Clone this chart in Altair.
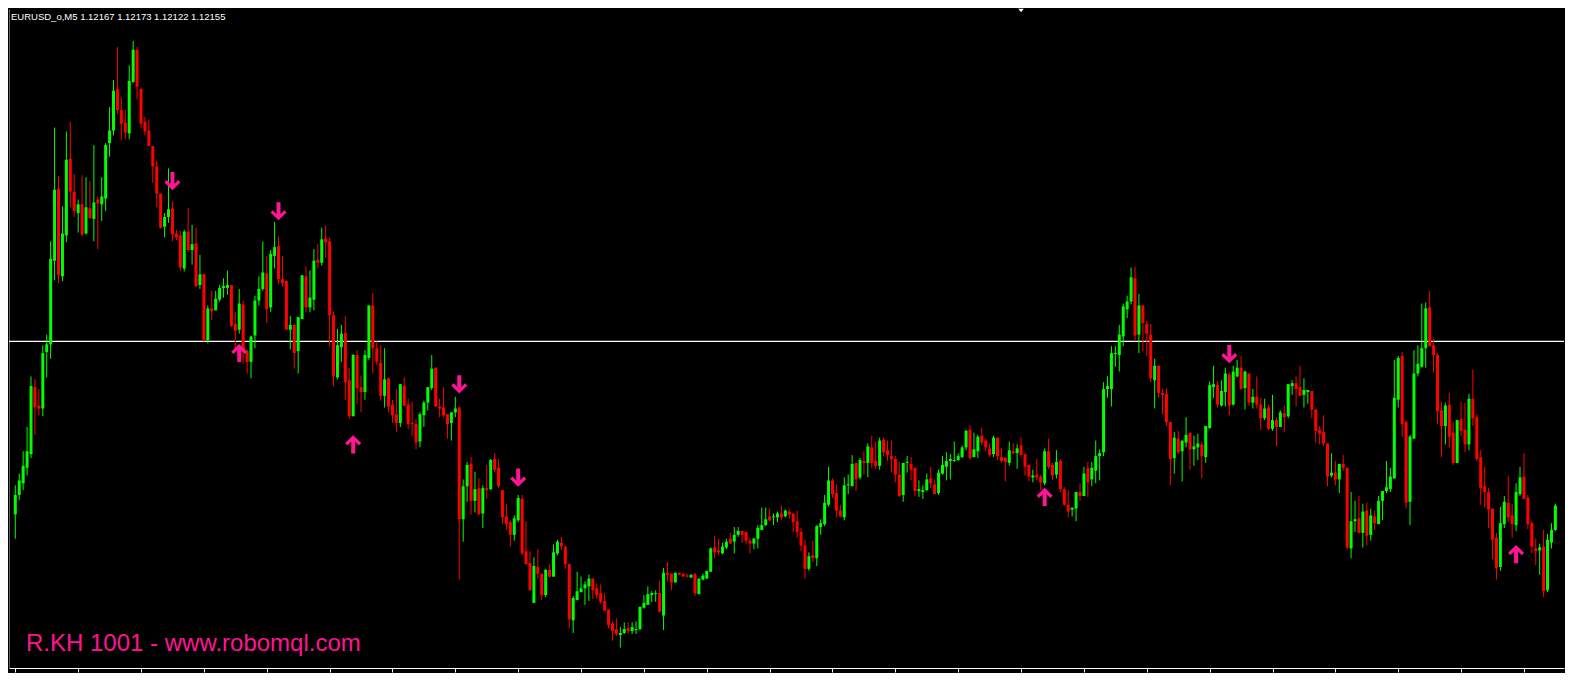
import altair as alt
import pandas as pd

# Prices are stored in points above 1.10000 (1 point = 0.00001)
OPEN = [1980,2000,2012,2028,2042,2111,2092,2089,2147,2155,
2241,2315,2225,2267,2346,2312,2290,2299,2269,2295,
2284,2304,2299,2305,2362,2375,2418,2396,2383,2372,
2425,2458,2418,2384,2375,2359,2338,2310,2276,2286,
2295,2269,2267,2233,2271,2252,2259,2216,2227,2159,
2192,2190,2201,2213,2213,2216,2176,2170,2196,2148,
2137,2164,2200,2212,2228,2193,2246,2256,2222,2220,
2170,2175,2148,2181,2225,2193,2201,2242,2239,2264,
2261,2185,2121,2152,2167,2118,2081,2144,2111,2106,
2141,2195,2151,2136,2102,2120,2093,2083,2074,2112,
2093,2074,2073,2055,2082,2095,2110,2131,2091,2090,
2083,2074,2085,2090,1975,2009,2032,1994,2007,1981,
2007,2006,2037,2028,2005,1978,1972,1959,1974,1996,
1942,1930,1889,1926,1919,1897,1923,1916,1940,1951,
1947,1929,1871,1892,1900,1904,1906,1914,1904,1899,
1891,1882,1868,1862,1856,1858,1863,1860,1861,1862,
1884,1887,1897,1898,1899,1876,1920,1919,1910,1920,
1919,1917,1915,1919,1898,1913,1914,1921,1946,1943,
1940,1946,1955,1952,1959,1963,1962,1953,1950,1955,
1964,1969,1978,1977,1977,1981,1978,1983,1981,1973,
1962,1948,1924,1938,1935,1967,1970,1990,2015,2002,
1984,1977,2010,2009,2033,2018,2035,2033,2049,2035,
2030,2057,2046,2040,2037,2021,2000,2033,2032,2028,
2004,2003,2005,2017,2011,2002,2022,2029,2035,2035,
2036,2039,2049,2067,2039,2045,2061,2056,2048,2042,
2059,2039,2038,2033,2045,2043,2051,2042,2031,2018,
2021,2019,2012,2045,2031,2021,2035,2006,1990,1985,
1986,2003,1999,2028,2016,2025,2040,2044,2109,2109,
2145,2144,2163,2191,2199,2223,2165,2195,2176,2165,
2118,2133,2105,2104,2075,2038,2058,2045,2054,2064,
2047,2049,2052,2039,2069,2111,2113,2092,2106,2124,
2093,2122,2131,2110,2125,2095,2101,2093,2079,2090,
2068,2077,2070,2084,2081,2112,2115,2111,2103,2106,
2107,2088,2067,2065,2053,2020,2023,2016,2032,2028,
1945,1973,1976,1961,1984,1959,1978,1970,1994,2004,
2006,2017,2098,2143,2075,1993,2058,2125,2132,2151,
2193,2154,2144,2087,2071,2093,2064,2033,2078,2067,
2052,2099,2080,2039,2009,2003,1986,1956,1926,1970,
1992,1979,1969,2001,2019,1997,1971,1945,1943,1947,
1902,1951,1964]

CLOSE = [2000,2015,2030,2045,2112,2090,2089,2146,2155,2243,
2314,2226,2269,2345,2312,2292,2299,2268,2296,2285,
2301,2300,2307,2360,2375,2416,2396,2382,2373,2426,
2458,2420,2382,2374,2359,2338,2310,2275,2286,2294,
2268,2265,2234,2271,2252,2258,2215,2227,2159,2192,
2189,2202,2213,2215,2216,2174,2169,2197,2147,2137,
2163,2200,2212,2229,2191,2248,2255,2222,2218,2170,
2175,2146,2183,2226,2193,2203,2241,2239,2263,2260,
2185,2122,2154,2166,2116,2081,2144,2110,2106,2144,
2195,2151,2137,2102,2119,2091,2082,2074,2114,2092,
2073,2073,2054,2083,2095,2111,2130,2091,2089,2082,
2073,2085,2089,1975,2009,2031,1994,2006,1980,2007,
2005,2036,2026,2009,1977,1970,1959,1976,1997,1940,
1929,1902,1927,1919,1897,1923,1916,1941,1952,1947,
1929,1872,1894,1901,1904,1908,1914,1902,1897,1890,
1881,1866,1860,1857,1858,1862,1860,1864,1862,1885,
1889,1898,1899,1899,1880,1920,1918,1910,1920,1918,
1916,1916,1918,1899,1914,1917,1922,1945,1941,1941,
1947,1952,1950,1959,1963,1959,1953,1950,1955,1966,
1969,1975,1974,1978,1981,1977,1984,1980,1972,1962,
1948,1924,1937,1935,1968,1971,1992,2015,2001,1984,
1978,2010,2011,2032,2016,2036,2033,2050,2033,2030,
2056,2044,2041,2037,2021,1999,2033,2034,2026,2004,
2006,2005,2016,2012,2001,2023,2031,2035,2037,2036,
2040,2049,2066,2038,2047,2060,2054,2049,2041,2059,
2040,2035,2034,2046,2043,2048,2041,2029,2019,2020,
2018,2013,2045,2029,2020,2034,2006,1990,1983,1987,
2003,1999,2022,2013,2028,2040,2043,2109,2112,2146,
2146,2165,2194,2199,2224,2164,2195,2177,2166,2120,
2133,2105,2103,2075,2037,2059,2044,2056,2062,2047,
2050,2053,2040,2071,2113,2114,2093,2107,2125,2092,
2127,2131,2109,2127,2095,2101,2093,2079,2089,2068,
2077,2070,2085,2080,2114,2115,2109,2102,2108,2108,
2088,2066,2063,2053,2019,2023,2016,2032,2028,1946,
1973,1975,1961,1983,1958,1979,1971,1994,2004,2008,
2019,2100,2141,2073,1992,2060,2125,2135,2151,2192,
2153,2144,2086,2071,2092,2060,2033,2077,2066,2052,
2099,2079,2037,2007,2003,1985,1954,1925,1971,1993,
1977,1970,2003,2018,1996,1970,1947,1942,1946,1901,
1954,1964,1989]

HIGH = [2010,2022,2045,2070,2122,2119,2109,2154,2165,2261,
2378,2328,2297,2374,2384,2330,2304,2329,2327,2323,
2360,2307,2327,2362,2399,2427,2461,2409,2396,2442,
2467,2461,2418,2389,2386,2359,2344,2310,2290,2336,
2302,2273,2272,2273,2295,2278,2275,2247,2228,2195,
2210,2210,2216,2223,2231,2216,2188,2212,2200,2150,
2164,2205,2225,2261,2246,2252,2281,2266,2246,2221,
2184,2176,2183,2226,2235,2231,2253,2258,2275,2277,
2265,2189,2171,2175,2184,2131,2145,2149,2123,2149,
2195,2208,2158,2154,2151,2121,2098,2109,2114,2121,
2099,2096,2078,2085,2097,2111,2144,2131,2099,2111,
2083,2085,2101,2091,2016,2034,2039,2024,2017,2010,
2031,2037,2043,2037,2005,1991,1974,1979,2000,2000,
1973,1942,1936,1944,1919,1924,1929,1949,1954,1957,
1947,1929,1896,1921,1916,1911,1918,1914,1909,1908,
1899,1882,1870,1873,1864,1869,1869,1869,1870,1885,
1897,1906,1901,1902,1912,1925,1931,1919,1920,1920,
1919,1919,1918,1919,1914,1919,1922,1946,1958,1955,
1951,1955,1961,1967,1967,1963,1962,1956,1956,1969,
1987,1987,1986,1981,1983,1989,1985,1986,1981,1984,
1966,1954,1941,1953,1969,1975,2000,2029,2017,2011,
1990,2018,2021,2041,2033,2038,2045,2053,2061,2055,
2059,2059,2056,2056,2040,2034,2033,2040,2039,2028,
2015,2010,2022,2029,2016,2026,2040,2044,2042,2055,
2043,2051,2067,2072,2064,2062,2069,2058,2053,2061,
2059,2048,2039,2055,2053,2052,2059,2042,2031,2026,
2037,2021,2048,2058,2033,2046,2037,2008,2005,1987,
2003,2012,2029,2034,2034,2056,2047,2116,2122,2153,
2153,2175,2197,2205,2234,2235,2207,2195,2179,2176,
2140,2133,2109,2110,2075,2065,2066,2056,2080,2064,
2061,2063,2055,2071,2117,2133,2117,2118,2131,2126,
2133,2139,2143,2128,2125,2109,2122,2100,2099,2093,
2103,2080,2087,2092,2114,2118,2122,2133,2120,2108,
2107,2088,2071,2082,2053,2043,2035,2032,2041,2028,
2003,1994,1999,1991,1992,1986,1984,1999,2004,2035,
2028,2139,2143,2147,2077,2062,2149,2154,2197,2198,
2210,2161,2146,2096,2095,2105,2075,2077,2096,2095,
2104,2129,2083,2046,2029,2007,1986,1961,1988,1999,
2019,1991,2012,2029,2043,2000,1973,1955,1950,1964,
1960,1971,1991]

LOW = [1955,1995,2005,2020,2038,2062,2082,2081,2121,2140,
2221,2218,2220,2260,2296,2286,2270,2266,2268,2284,
2261,2253,2282,2292,2348,2370,2392,2365,2366,2366,
2424,2407,2378,2370,2359,2321,2296,2274,2265,2280,
2261,2262,2231,2230,2250,2237,2214,2212,2158,2156,
2180,2190,2199,2203,2206,2173,2151,2166,2135,2125,
2120,2151,2195,2210,2177,2188,2233,2217,2214,2170,
2150,2130,2125,2181,2188,2188,2190,2233,2236,2244,
2153,2112,2119,2137,2098,2078,2081,2094,2085,2098,
2139,2125,2134,2097,2090,2085,2074,2065,2070,2091,
2068,2061,2047,2049,2070,2087,2108,2091,2080,2080,
2058,2056,2080,1913,1952,1993,1980,1982,1980,1966,
1996,2005,2023,2007,1970,1964,1947,1953,1972,1938,
1928,1902,1889,1914,1892,1895,1915,1916,1938,1943,
1924,1863,1858,1892,1900,1887,1891,1893,1893,1888,
1881,1863,1850,1855,1843,1857,1857,1857,1857,1861,
1883,1887,1890,1890,1879,1861,1911,1902,1910,1918,
1916,1915,1915,1896,1898,1912,1914,1921,1935,1938,
1939,1944,1950,1940,1957,1951,1949,1940,1944,1945,
1964,1968,1973,1969,1972,1974,1977,1976,1962,1956,
1942,1914,1922,1931,1927,1959,1968,1988,1997,1977,
1977,1974,2001,2009,2004,2016,2021,2018,2028,2027,
2026,2040,2035,2023,2013,1998,1993,2023,2015,1999,
1998,1996,2004,2007,2001,2000,2021,2015,2016,2034,
2035,2038,2046,2036,2039,2038,2051,2045,2039,2039,
2036,2033,2014,2030,2042,2027,2041,2020,2014,2013,
2015,2005,2010,2027,2015,2017,2003,1989,1977,1978,
1973,1994,1999,1998,2009,2012,2015,2040,2100,2091,
2132,2127,2153,2182,2196,2158,2146,2148,2143,2116,
2089,2100,2083,2071,2010,2022,2042,2014,2049,2026,
2030,2036,2017,2033,2068,2100,2090,2091,2091,2082,
2092,2121,2109,2088,2092,2089,2089,2067,2077,2067,
2066,2050,2070,2065,2079,2103,2091,2102,2090,2094,
2079,2054,2052,2050,2009,2018,2010,2002,2025,1944,
1935,1962,1961,1946,1948,1953,1964,1970,1974,2002,
2003,2017,2090,2060,1986,1969,2058,2122,2131,2131,
2153,2126,2073,2039,2052,2049,2031,2033,2061,2044,
2046,2071,2035,1990,1987,1966,1934,1913,1922,1966,
1972,1956,1963,1999,1996,1965,1940,1928,1918,1895,
1900,1945,1963]

# signal arrows: bar index and price level (points above 1.10000)
SELL_BARS = [40, 67, 113, 128, 309]
SELL_LEVEL = [2323, 2292, 2114, 2018, 2145]
BUY_BARS = [57, 86, 262, 382]
BUY_LEVEL = [2146, 2052, 1998, 1939]

PRICE_LINE = 2158
HEADER = "EURUSD_o,M5  1.12167 1.12173 1.12122 1.12155"
WATERMARK = "R.KH 1001 - www.robomql.com"
TICK_BARS = list(range(0, 393, 16))


def to_price(p):
    return round(1.1 + p / 100000.0, 5)


df = pd.DataFrame({
    "bar": list(range(len(OPEN))),
    "open": [to_price(v) for v in OPEN],
    "close": [to_price(v) for v in CLOSE],
    "high": [to_price(v) for v in HIGH],
    "low": [to_price(v) for v in LOW],
})
df["dir"] = ["up" if c >= o else "down" for o, c in zip(df["open"], df["close"])]

sell = pd.DataFrame({"bar": SELL_BARS, "price": [to_price(v) for v in SELL_LEVEL]})
buy = pd.DataFrame({"bar": BUY_BARS, "price": [to_price(v) for v in BUY_LEVEL]})
line_df = pd.DataFrame({"price": [to_price(PRICE_LINE)]})

xscale = alt.Scale(domain=[-0.33, 392.92], nice=False, zero=False)
yscale = alt.Scale(domain=[1.11822, 1.125], nice=False, zero=False)
color = alt.Color("dir:N", scale=alt.Scale(domain=["up", "down"], range=["#00FF00", "#FF0000"]), legend=None)

X = alt.X("bar:Q", scale=xscale, title=None,
          axis=alt.Axis(values=TICK_BARS, labels=False, ticks=True, tickSize=4, tickColor="white",
                        domainColor="white", domainWidth=1, tickWidth=1, grid=False))
Y_AX = alt.Axis(labels=False, ticks=False, grid=False, domainColor="#606060", domainWidth=1)

base = alt.Chart(df)
wicks = base.mark_rule(strokeWidth=1).encode(
    x=X, y=alt.Y("low:Q", scale=yscale, axis=Y_AX, title=None), y2="high:Q", color=color)
bodies = base.mark_bar(size=3).encode(
    x=X, y=alt.Y("open:Q", scale=yscale, title=None), y2="close:Q", color=color)

hline = alt.Chart(line_df).mark_rule(color="white", strokeWidth=1.2).encode(
    y=alt.Y("price:Q", scale=yscale, title=None))

DOWN_PATH = "M -0.25 -1.125 L 0.25 -1.125 L 0.25 0.35 L 0.72 -0.12 L 1 0.18 L 0 1.15 L -1 0.18 L -0.72 -0.12 L -0.25 0.35 Z"
UP_PATH = "M -0.25 1.125 L 0.25 1.125 L 0.25 -0.35 L 0.72 0.12 L 1 -0.18 L 0 -1.15 L -1 -0.18 L -0.72 0.12 L -0.25 -0.35 Z"

sell_marks = alt.Chart(sell).mark_point(shape=DOWN_PATH, filled=True, size=256, color="#FF1493",
                                         opacity=1, strokeWidth=0).encode(
    x=alt.X("bar:Q", scale=xscale, title=None), y=alt.Y("price:Q", scale=yscale, title=None))
buy_marks = alt.Chart(buy).mark_point(shape=UP_PATH, filled=True, size=256, color="#FF1493",
                                       opacity=1, strokeWidth=0).encode(
    x=alt.X("bar:Q", scale=xscale, title=None), y=alt.Y("price:Q", scale=yscale, title=None))

header = alt.Chart(pd.DataFrame({"t": [HEADER]})).mark_text(
    align="left", baseline="alphabetic", color="white", font="Liberation Sans", fontSize=9.5).encode(
    text="t:N", x=alt.value(2), y=alt.value(11))

watermark = alt.Chart(pd.DataFrame({"t": [WATERMARK]})).mark_text(
    align="left", baseline="alphabetic", color="#FF1493", font="Liberation Sans", fontSize=24).encode(
    text="t:N", x=alt.value(17), y=alt.value(642))

shift_marker = alt.Chart(pd.DataFrame({"t": ["shift"]})).mark_point(
    shape="M -1 -0.6 L 1 -0.6 L 0 0.6 Z", filled=True, size=30, color="white", opacity=1).encode(
    x=alt.value(1012), y=alt.value(1.5))

chart = alt.layer(hline, wicks, bodies, sell_marks, buy_marks, header, watermark, shift_marker).properties(
    width=1557, height=665,
    autosize=alt.AutoSizeParams(type="fit", contains="padding"),
    padding=0,
    background="black",
).configure_view(stroke=None)

chart.save("out.html", embed_options={"renderer": "svg", "actions": False})
